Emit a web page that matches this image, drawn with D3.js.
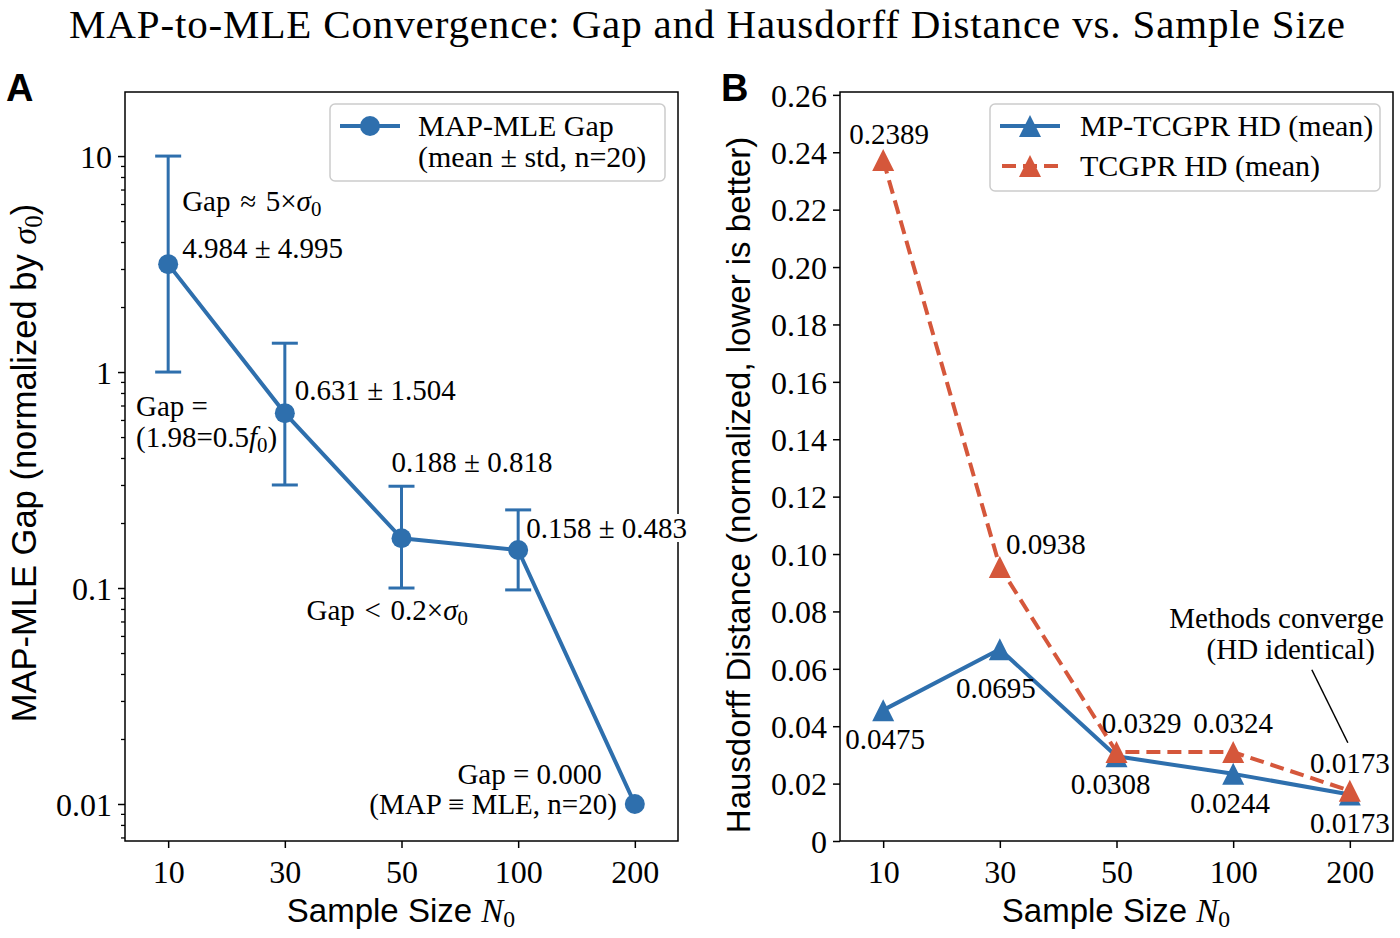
<!DOCTYPE html>
<html>
<head>
<meta charset="utf-8">
<script src="https://cdn.jsdelivr.net/npm/d3@7"></script>
<style>
body { margin: 0; background: #fff; }
text { fill: #000; }
.serif { font-family: "Liberation Serif", "Times New Roman", serif; }
.sans { font-family: "Liberation Sans", Arial, sans-serif; }
</style>
</head>
<body>
<svg width="1400" height="938"></svg>
<script>
// data
var sampleSizes = ["10", "30", "50", "100", "200"];

// panel A: MAP-MLE gap (normalized by sigma0), as plotted
var gapMean = [3.16, 0.645, 0.170, 0.150, 0.010];
var gapLow = [1.0, 0.30, 0.10, 0.098, null];
var gapHigh = [10.0, 1.36, 0.296, 0.23, null];
var gapLabels = ["4.984 ± 4.995", "0.631 ± 1.504", "0.188 ± 0.818", "0.158 ± 0.483"];
var gapTicks = [0.01, 0.1, 1, 10];

// panel B: Hausdorff distance
var mpHD = [0.0456, 0.0668, 0.0295, 0.0234, 0.0162];
var tcHD = [0.2373, 0.0955, 0.0310, 0.0310, 0.0175];
var mpLabels = ["0.0475", "0.0695", "0.0308", "0.0244", "0.0173"];
var tcLabels = ["0.2389", "0.0938", "0.0329", "0.0324", "0.0173"];
var hdTicks = [0, 0.02, 0.04, 0.06, 0.08, 0.10, 0.12, 0.14, 0.16, 0.18, 0.20, 0.22, 0.24, 0.26];

var blue = "#2e6fad";
var red = "#d5573b";

var svg = d3.select("svg");

var top_ = 92, bottom_ = 841;
var panelA = {left: 125, right: 678};
var panelB = {left: 840, right: 1393};

// title
svg.append("text")
    .attr("class", "serif")
    .attr("x", 707).attr("y", 38)
    .attr("text-anchor", "middle")
    .attr("textLength", 1276).attr("lengthAdjust", "spacing")
    .style("font-size", "41px")
    .text("MAP-to-MLE Convergence: Gap and Hausdorff Distance vs. Sample Size");

// helper for text with a subscript
function subText(sel, parts) {
    parts.forEach(function(p) {
        var t = sel.append("tspan").text(p.t);
        if (p.i) t.style("font-style", "italic");
        if (p.serif) t.attr("class", "serif");
        if (p.sub) t.attr("baseline-shift", "-22%").style("font-size", "72%");
    });
    return sel;
}

function triangle(r) {
    return "M0," + (-r) + "L" + r + "," + r + "L" + (-r) + "," + r + "Z";
}

// ---------- panel A ----------
var xA = d3.scalePoint().domain(sampleSizes).range([panelA.left, panelA.right]).padding(0.37);
var yA = d3.scaleLog().domain([0.00674, 19.8]).range([bottom_, top_]);

var gA = svg.append("g");

// minor ticks on the log axis
var minor = [];
[0.001, 0.01, 0.1, 1, 10].forEach(function(d) {
    for (var k = 2; k < 10; k++) {
        var v = d * k;
        if (v > yA.domain()[0] && v < yA.domain()[1]) minor.push(v);
    }
});
gA.append("g")
    .attr("transform", "translate(" + panelA.left + ",0)")
    .call(d3.axisLeft(yA).tickValues(minor).tickSize(4).tickFormat(""))
    .call(function(g) { g.select(".domain").remove(); g.selectAll("line").attr("stroke-width", 1.3); });

gA.append("g")
    .attr("transform", "translate(" + panelA.left + ",0)")
    .call(d3.axisLeft(yA).tickValues(gapTicks).tickSize(7).tickPadding(6).tickFormat(function(d) { return d3.format("")(d); }))
    .call(function(g) {
        g.select(".domain").remove();
        g.selectAll("line").attr("stroke-width", 1.5);
        g.selectAll("text").attr("class", "serif").style("font-size", "32px").attr("dy", "0.35em");
    });

gA.append("g")
    .attr("transform", "translate(0," + bottom_ + ")")
    .call(d3.axisBottom(xA).tickSize(7).tickPadding(12))
    .call(function(g) {
        g.select(".domain").remove();
        g.selectAll("line").attr("stroke-width", 1.5);
        g.selectAll("text").attr("class", "serif").style("font-size", "32px");
    });

// error bars
sampleSizes.forEach(function(s, i) {
    if (gapLow[i] == null) return;
    var x = xA(s);
    gA.append("line").attr("x1", x).attr("x2", x).attr("y1", yA(gapLow[i])).attr("y2", yA(gapHigh[i]))
        .attr("stroke", blue).attr("stroke-width", 3);
    [gapLow[i], gapHigh[i]].forEach(function(v) {
        gA.append("line").attr("x1", x - 13).attr("x2", x + 13).attr("y1", yA(v)).attr("y2", yA(v))
            .attr("stroke", blue).attr("stroke-width", 3);
    });
});

var lineA = d3.line()
    .x(function(d, i) { return xA(sampleSizes[i]); })
    .y(function(d) { return yA(d); });

gA.append("path")
    .attr("d", lineA(gapMean))
    .attr("fill", "none").attr("stroke", blue).attr("stroke-width", 4).attr("stroke-linejoin", "round");

gA.selectAll(".dot").data(gapMean).enter().append("circle")
    .attr("cx", function(d, i) { return xA(sampleSizes[i]); })
    .attr("cy", function(d) { return yA(d); })
    .attr("r", 10).attr("fill", blue);

// frame
gA.append("rect")
    .attr("x", panelA.left).attr("y", top_)
    .attr("width", panelA.right - panelA.left).attr("height", bottom_ - top_)
    .attr("fill", "none").attr("stroke", "#000").attr("stroke-width", 1.5);

// value labels
var gapOffsets = [[14, -6], [10, -13], [-10, -66], [8, -12]];
gapLabels.forEach(function(lab, i) {
    var x = xA(sampleSizes[i]) + gapOffsets[i][0];
    var y = yA(gapMean[i]) + gapOffsets[i][1];
    var t = gA.append("text").attr("class", "serif").attr("x", x).attr("y", y)
        .style("font-size", "29px").text(lab);
    if (i == 3) {
        var bb = t.node().getBBox();
        gA.insert("rect", function() { return t.node(); })
            .attr("x", bb.x - 2).attr("y", bb.y + 2).attr("width", bb.width + 4).attr("height", bb.height - 4)
            .attr("fill", "#fff");
    }
});

// annotations A
subText(gA.append("text").attr("class", "serif")
    .attr("x", xA("10") + 14).attr("y", yA(gapMean[0]) - 53).style("font-size", "29px"),
    [{t: "Gap\u2004≈\u20045×"}, {t: "σ", i: true}, {t: "0", sub: true}]);

gA.append("text").attr("class", "serif")
    .attr("x", 136).attr("y", 416).style("font-size", "29px").text("Gap =");
subText(gA.append("text").attr("class", "serif")
    .attr("x", 136).attr("y", 447).style("font-size", "29px"),
    [{t: "(1.98=0.5"}, {t: "f", i: true}, {t: "0", sub: true}, {t: ")"}]);

subText(gA.append("text").attr("class", "serif")
    .attr("x", xA("50") - 95).attr("y", yA(gapMean[2]) + 82).style("font-size", "29px"),
    [{t: "Gap\u2004<\u20040.2×"}, {t: "σ", i: true}, {t: "0", sub: true}]);

gA.append("text").attr("class", "serif")
    .attr("x", xA("200") - 33).attr("y", yA(gapMean[4]) - 20)
    .attr("text-anchor", "end").style("font-size", "29px").text("Gap = 0.000");
gA.append("text").attr("class", "serif")
    .attr("x", xA("200") - 18).attr("y", yA(gapMean[4]) + 10)
    .attr("text-anchor", "end").style("font-size", "29px").text("(MAP ≡ MLE, n=20)");

// legend A
var legA = gA.append("g");
legA.append("rect").attr("x", 330).attr("y", 104).attr("width", 335).attr("height", 77)
    .attr("rx", 5).attr("fill", "#fff").attr("fill-opacity", 0.8).attr("stroke", "#cccccc").attr("stroke-width", 1.5);
legA.append("line").attr("x1", 340).attr("x2", 400).attr("y1", 126).attr("y2", 126)
    .attr("stroke", blue).attr("stroke-width", 4);
legA.append("circle").attr("cx", 370).attr("cy", 126).attr("r", 10).attr("fill", blue);
legA.append("text").attr("class", "serif").attr("x", 418).attr("y", 136).style("font-size", "30px").text("MAP-MLE Gap");
legA.append("text").attr("class", "serif").attr("x", 418).attr("y", 167).style("font-size", "30px").text("(mean ± std, n=20)");

// axis labels A
subText(gA.append("text").attr("class", "sans")
    .attr("transform", "translate(36," + 463 + ")rotate(-90)")
    .attr("text-anchor", "middle").style("font-size", "34.5px"),
    [{t: "MAP-MLE Gap (normalized by "}, {t: "σ", i: true, serif: true}, {t: "0", sub: true, serif: true}, {t: ")"}]);

subText(gA.append("text").attr("class", "sans")
    .attr("x", 401).attr("y", 922).attr("text-anchor", "middle").style("font-size", "33px"),
    [{t: "Sample Size "}, {t: "N", i: true, serif: true}, {t: "0", sub: true, serif: true}]);

gA.append("text").attr("class", "sans").attr("x", 6).attr("y", 101)
    .style("font-size", "38px").style("font-weight", "bold").text("A");

// ---------- panel B ----------
var xB = d3.scalePoint().domain(sampleSizes).range([panelB.left, panelB.right]).padding(0.37);
var yB = d3.scaleLinear().domain([0, 0.261]).range([bottom_, top_]);

var gB = svg.append("g");

gB.append("g")
    .attr("transform", "translate(" + panelB.left + ",0)")
    .call(d3.axisLeft(yB).tickValues(hdTicks).tickSize(7).tickPadding(6)
        .tickFormat(function(d) { return d == 0 ? "0" : d3.format(".2f")(d); }))
    .call(function(g) {
        g.select(".domain").remove();
        g.selectAll("line").attr("stroke-width", 1.5);
        g.selectAll("text").attr("class", "serif").style("font-size", "32px").attr("dy", "0.35em");
    });

gB.append("g")
    .attr("transform", "translate(0," + bottom_ + ")")
    .call(d3.axisBottom(xB).tickSize(7).tickPadding(12))
    .call(function(g) {
        g.select(".domain").remove();
        g.selectAll("line").attr("stroke-width", 1.5);
        g.selectAll("text").attr("class", "serif").style("font-size", "32px");
    });

var lineB = d3.line()
    .x(function(d, i) { return xB(sampleSizes[i]); })
    .y(function(d) { return yB(d); });

gB.append("path").attr("d", lineB(mpHD))
    .attr("fill", "none").attr("stroke", blue).attr("stroke-width", 4).attr("stroke-linejoin", "round");
gB.selectAll(".mp").data(mpHD).enter().append("path")
    .attr("transform", function(d, i) { return "translate(" + xB(sampleSizes[i]) + "," + yB(d) + ")"; })
    .attr("d", triangle(11)).attr("fill", blue);

gB.append("path").attr("d", lineB(tcHD))
    .attr("fill", "none").attr("stroke", red).attr("stroke-width", 4).attr("stroke-dasharray", "14,7");
gB.selectAll(".tc").data(tcHD).enter().append("path")
    .attr("transform", function(d, i) { return "translate(" + xB(sampleSizes[i]) + "," + yB(d) + ")"; })
    .attr("d", triangle(11)).attr("fill", red);

gB.append("rect")
    .attr("x", panelB.left).attr("y", top_)
    .attr("width", panelB.right - panelB.left).attr("height", bottom_ - top_)
    .attr("fill", "none").attr("stroke", "#000").attr("stroke-width", 1.5);

// value labels B
var tcOffsets = [[6, -16], [46, -13], [25, -19], [0, -19], [0, -18]];
var mpOffsets = [[2, 39], [-4, 49], [-6, 38], [-3, 39], [0, 38]];
tcLabels.forEach(function(lab, i) {
    gB.append("text").attr("class", "serif")
        .attr("x", xB(sampleSizes[i]) + tcOffsets[i][0]).attr("y", yB(tcHD[i]) + tcOffsets[i][1])
        .attr("text-anchor", "middle").style("font-size", "29px").text(lab);
});
mpLabels.forEach(function(lab, i) {
    gB.append("text").attr("class", "serif")
        .attr("x", xB(sampleSizes[i]) + mpOffsets[i][0]).attr("y", yB(mpHD[i]) + mpOffsets[i][1])
        .attr("text-anchor", "middle").style("font-size", "29px").text(lab);
});

// convergence note
var px = xB("200"), py = yB(tcHD[4]);
gB.append("line").attr("x1", px - 38).attr("y1", py - 121).attr("x2", px - 2).attr("y2", py - 48)
    .attr("stroke", "#000").attr("stroke-width", 1.5);
gB.append("text").attr("class", "serif").attr("x", px + 34).attr("y", py - 163)
    .attr("text-anchor", "end").style("font-size", "29px").text("Methods converge");
gB.append("text").attr("class", "serif").attr("x", px + 25).attr("y", py - 132)
    .attr("text-anchor", "end").style("font-size", "29px").text("(HD identical)");

// legend B
var legB = gB.append("g");
legB.append("rect").attr("x", 990).attr("y", 104).attr("width", 390).attr("height", 87)
    .attr("rx", 5).attr("fill", "#fff").attr("fill-opacity", 0.8).attr("stroke", "#cccccc").attr("stroke-width", 1.5);
legB.append("line").attr("x1", 1000).attr("x2", 1060).attr("y1", 126).attr("y2", 126)
    .attr("stroke", blue).attr("stroke-width", 4);
legB.append("path").attr("transform", "translate(1030,126)").attr("d", triangle(11)).attr("fill", blue);
legB.append("line").attr("x1", 1000).attr("x2", 1060).attr("y1", 166).attr("y2", 166)
    .attr("stroke", red).attr("stroke-width", 4).attr("stroke-dasharray", "14,7").attr("stroke-dashoffset", -2);
legB.append("path").attr("transform", "translate(1030,166)").attr("d", triangle(11)).attr("fill", red);
legB.append("text").attr("class", "serif").attr("x", 1080).attr("y", 136).style("font-size", "30px").text("MP-TCGPR HD (mean)");
legB.append("text").attr("class", "serif").attr("x", 1080).attr("y", 176).style("font-size", "30px").text("TCGPR HD (mean)");

// axis labels B
gB.append("text").attr("class", "sans")
    .attr("transform", "translate(750," + 485 + ")rotate(-90)")
    .attr("text-anchor", "middle").style("font-size", "33px")
    .text("Hausdorff Distance (normalized, lower is better)");

subText(gB.append("text").attr("class", "sans")
    .attr("x", 1116).attr("y", 922).attr("text-anchor", "middle").style("font-size", "33px"),
    [{t: "Sample Size "}, {t: "N", i: true, serif: true}, {t: "0", sub: true, serif: true}]);

gB.append("text").attr("class", "sans").attr("x", 721).attr("y", 101)
    .style("font-size", "38px").style("font-weight", "bold").text("B");
</script>
</body>
</html>
